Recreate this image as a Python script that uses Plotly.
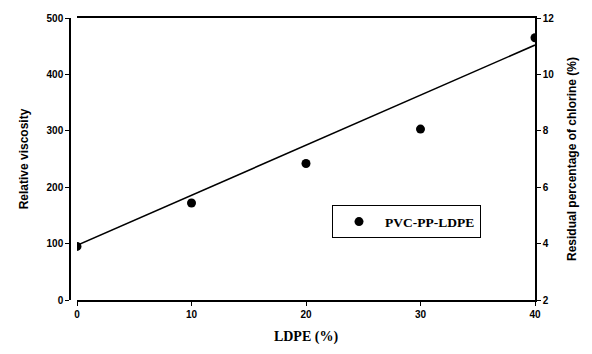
import plotly.graph_objects as go

# LDPE content in the PVC-PP-LDPE blend (%)
ldpe = [0, 10, 20, 30, 40]
# measured relative viscosity
rel_visc = [95, 172, 242, 303, 465]
# straight trend line through the series (end points)
trend_x = [0, 40]
trend_y = [97, 452]

x_ticks = [0, 10, 20, 30, 40]
y_ticks = [0, 100, 200, 300, 400, 500]
y2_ticks = [2, 4, 6, 8, 10, 12]

W, H = 592, 354
ML, MR, MT, MB = 70, 57, 14, 54
plot_w = W - ML - MR
x_start = 7 / plot_w

tick_font = dict(family="Liberation Sans", size=10, color="black")
title_font = dict(family="Liberation Sans", size=12, color="black")

fig = go.Figure()
fig.add_trace(go.Scatter(
    x=trend_x, y=trend_y, mode="lines",
    line=dict(color="black", width=1.6), showlegend=False, hoverinfo="skip",
))
fig.add_trace(go.Scatter(
    x=ldpe, y=rel_visc, mode="markers", name="<b>PVC-PP-LDPE</b>",
    marker=dict(color="black", size=9),
))
# empty trace so the right-hand chlorine axis is rendered
fig.add_trace(go.Scatter(
    x=[None], y=[None], yaxis="y2", mode="markers",
    showlegend=False, hoverinfo="skip",
))

fig.update_layout(
    width=W, height=H,
    margin=dict(l=ML, r=MR, t=MT, b=MB),
    paper_bgcolor="white", plot_bgcolor="white",
    showlegend=True,
    legend=dict(
        x=(332 - ML) / plot_w, y=1 - (204 - MT) / (H - MT - MB),
        xanchor="left", yanchor="top",
        bordercolor="black", borderwidth=1, bgcolor="white",
        font=dict(family="Liberation Serif", size=13.5, color="black"),
        itemwidth=42,
    ),
    xaxis=dict(
        domain=[x_start, 1], range=[0, 40],
        tickvals=x_ticks, ticktext=[f"<b>{v}</b>" for v in x_ticks],
        showline=True, linecolor="black", linewidth=1.5, mirror=True,
        ticks="outside", ticklen=4, tickcolor="black",
        showgrid=False, zeroline=False, tickfont=tick_font,
        title=dict(text="<b>LDPE (%)</b>",
                   font=dict(family="Liberation Serif", size=14, color="black"),
                   standoff=12),
    ),
    yaxis=dict(
        anchor="free", position=0, range=[0, 500],
        tickvals=y_ticks, ticktext=[f"<b>{v}</b>" for v in y_ticks],
        showline=True, linecolor="black", linewidth=1.5,
        ticks="outside", ticklen=4, tickcolor="black",
        showgrid=False, zeroline=False, tickfont=tick_font,
        title=dict(text="<b>Relative viscosity</b>", font=title_font, standoff=14),
    ),
    yaxis2=dict(
        overlaying="y", side="right", anchor="x", range=[2, 12],
        tickvals=y2_ticks, ticktext=[f"<b>{v}</b>" for v in y2_ticks],
        showline=True, linecolor="black", linewidth=1.5,
        ticks="outside", ticklen=4, tickcolor="black",
        showgrid=False, zeroline=False, tickfont=tick_font,
        title=dict(text="<b>Residual percentage of chlorine (%)</b>",
                   font=title_font, standoff=14),
    ),
)

fig.write_html("out.html")
